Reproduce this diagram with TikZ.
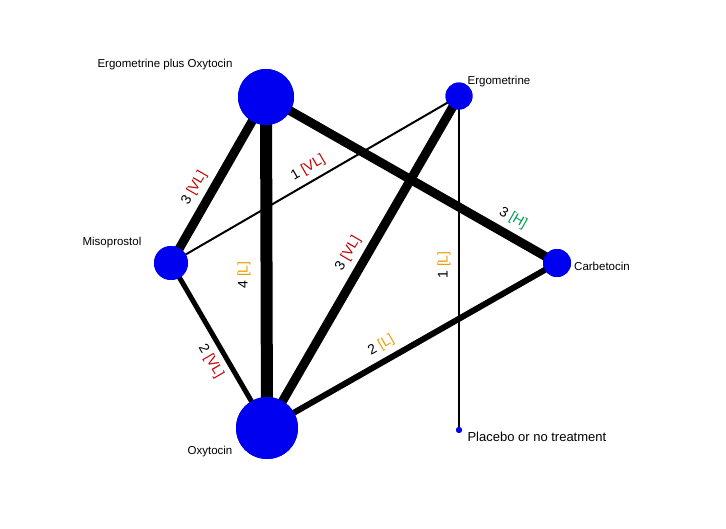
\documentclass[tikz,border=0pt]{standalone}
\usepackage{fontspec}
\setmainfont{Liberation Sans}
\definecolor{vl}{HTML}{C00000}
\definecolor{lo}{HTML}{E6A000}
\definecolor{hi}{HTML}{00A050}
\definecolor{nb}{HTML}{0000F0}
\begin{document}
\begin{tikzpicture}[x=1pt,y=-1pt,
  tr/.style={circle,fill=nb,inner sep=0pt},
  nl/.style={font=\fontsize{11.5}{13}\selectfont},
  elf/.style={font=\fontsize{14}{16}\selectfont,inner sep=2pt},
  el/.style={sloped,elf,inner sep=6pt}]
\useasboundingbox (0,0) rectangle (726,528);
\node[tr,minimum size=56pt] (epo) at (266,97) {};
\node[tr,minimum size=27pt] (erg) at (459,96) {};
\node[tr,minimum size=34pt] (mis) at (171,263) {};
\node[tr,minimum size=28pt] (car) at (557,263) {};
\node[tr,minimum size=62pt] (oxy) at (267,428) {};
\node[tr,minimum size=6pt] (pla) at (459,430) {};
\draw[line width=9pt] (mis.center) -- node[el,above,pos=0.4] {3 \textcolor{vl}{[VL]}} (epo.center);
\draw[line width=12pt] (oxy.center) -- (epo.center);
\draw[line width=9pt] (epo.center) -- node[el,above,pos=0.82] {3 \textcolor{hi}{[H]}} (car.center);
\draw[line width=2pt] (mis.center) -- node[el,above,pos=0.5] {1 \textcolor{vl}{[VL]}} (erg.center);
\draw[line width=9pt] (oxy.center) -- node[el,above,pos=0.5] {3 \textcolor{vl}{[VL]}} (erg.center);
\draw[line width=2pt] (pla.center) -- (erg.center);
\draw[line width=5pt] (mis.center) -- node[el,below,pos=0.55] {2 \textcolor{vl}{[VL]}} (oxy.center);
\draw[line width=6pt] (oxy.center) -- node[el,above,pos=0.42] {2 \textcolor{lo}{[L]}} (car.center);
\node[elf,rotate=90] (l4) at (244,275) {4 \textcolor{lo}{[L]}};
\node[elf,rotate=90] (l1) at (444,265) {1 \textcolor{lo}{[L]}};
\node[tr,minimum size=56pt] at (epo) {};
\node[tr,minimum size=27pt] at (erg) {};
\node[tr,minimum size=34pt] at (mis) {};
\node[tr,minimum size=28pt] at (car) {};
\node[tr,minimum size=62pt] at (oxy) {};
\node[tr,minimum size=6pt] at (pla) {};
\node[nl] (lepo) at (165,65) {Ergometrine plus Oxytocin};
\node[nl] (lerg) at (499,82) {Ergometrine};
\node[nl] (lmis) at (112,243) {Misoprostol};
\node[nl] (lcar) at (602,266) {Carbetocin};
\node[nl] (loxy) at (210,452) {Oxytocin};
\node[font=\fontsize{13}{15}\selectfont,anchor=west] (lpla) at (464,437) {Placebo or no treatment};
\end{tikzpicture}
\end{document}
